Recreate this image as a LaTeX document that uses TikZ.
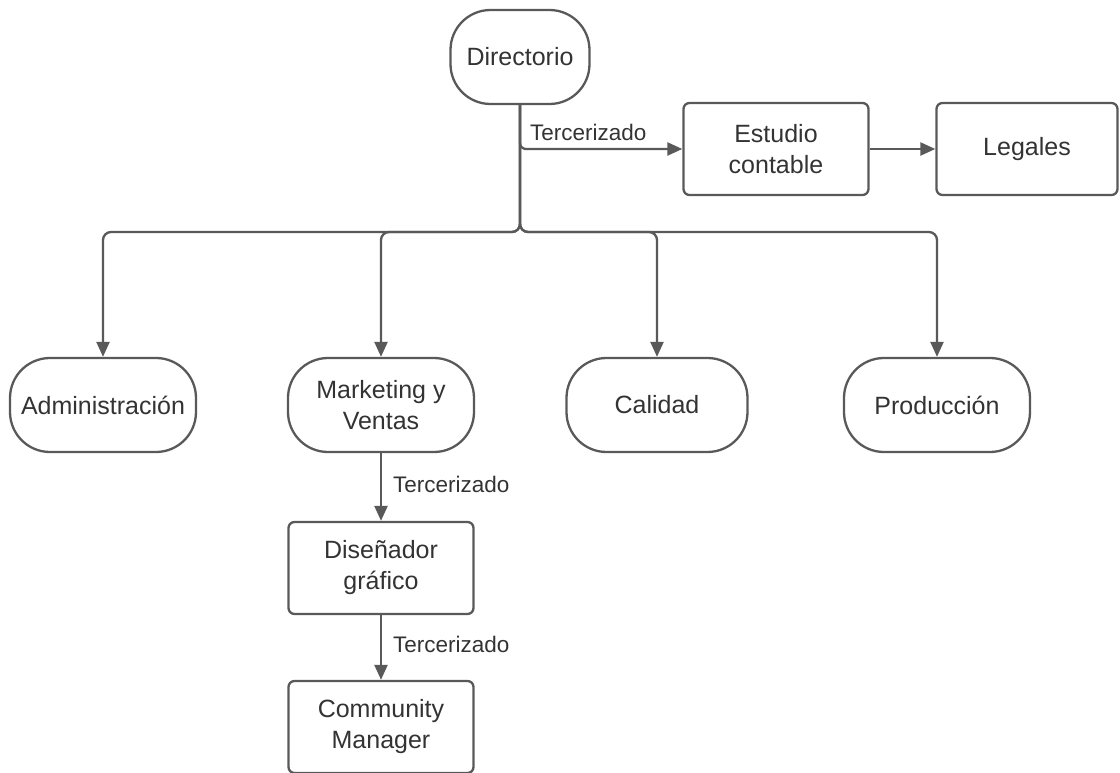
\documentclass[tikz,border=0pt]{standalone}
\usepackage{fontspec}
\setmainfont{Liberation Sans}
\usetikzlibrary{arrows.meta}
\definecolor{ln}{HTML}{595959}
\definecolor{tx}{HTML}{333333}
\begin{document}
\begin{tikzpicture}[x=1pt,y=-1pt,
  base/.style={draw=ln, line width=2.3pt, text=tx, inner sep=0pt, align=center,
    font=\fontsize{25}{31}\selectfont},
  stad/.style={base, rounded corners=40pt, minimum width=186pt, minimum height=94pt},
  boxr/.style={base, rounded corners=6pt, minimum width=185pt, minimum height=92pt},
  arr/.style={draw=ln, line width=2.3pt, -{Triangle[length=15pt,width=13pt]}},
  lbl/.style={text=tx, font=\fontsize{22.5}{26}\selectfont, inner sep=0pt}
]
\useasboundingbox (0,0) rectangle (1120,773);
\node[stad, minimum width=139pt] (dir) at (520,57) {Directorio};
\node[boxr] (est) at (776,149) {Estudio\\contable};
\node[boxr, minimum width=181pt] (leg) at (1027,149) {Legales};
\node[stad] (adm) at (103,405) {Administración};
\node[stad] (mkt) at (381,405) {Marketing y\\Ventas};
\node[stad, minimum width=181pt] (cal) at (657,405) {Calidad};
\node[stad] (pro) at (937,405) {Producción};
\node[boxr] (dis) at (381,568) {Diseñador\\gráfico};
\node[boxr] (com) at (381,727) {Community\\Manager};
\coordinate (bus) at (520,232);

\draw[arr, rounded corners=6pt] (dir.south) |- (est.west);
\node[lbl, anchor=base west] (t1) at (530,141) {Tercerizado};
\draw[arr] (est.east) -- (leg.west);
\foreach \c in {adm,mkt,cal,pro}{
  \draw[arr, rounded corners=8pt] (dir.south) -- (bus) -| (\c.north);
}
\draw[arr] (mkt.south) -- (dis.north);
\node[lbl, anchor=base west] (t2) at (393,492) {Tercerizado};
\draw[arr] (dis.south) -- (com.north);
\node[lbl, anchor=base west] (t3) at (393,652) {Tercerizado};
\end{tikzpicture}
\end{document}
